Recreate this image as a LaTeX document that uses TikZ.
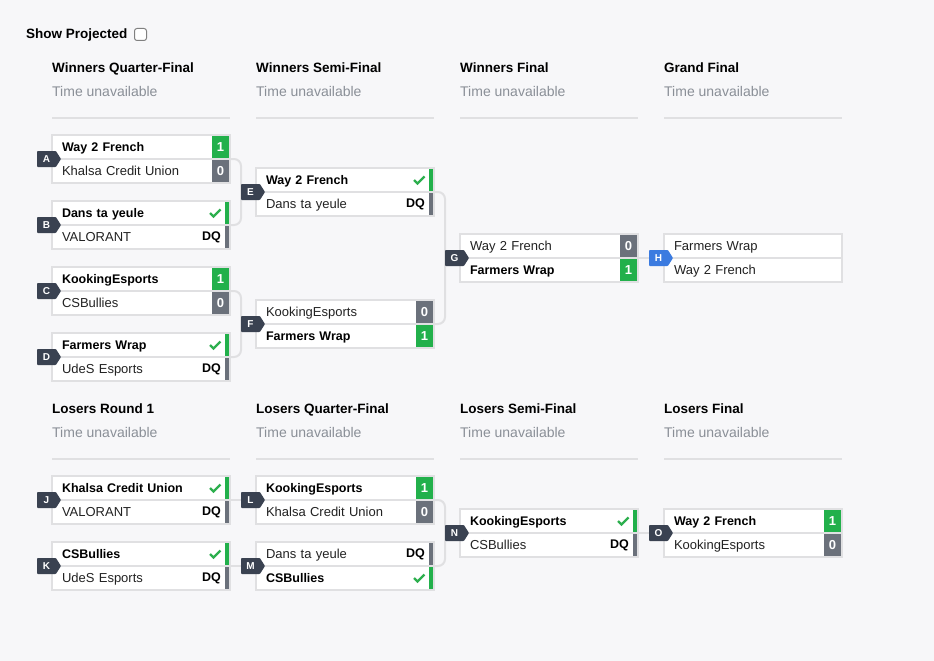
\documentclass[tikz,border=0pt]{standalone}
\usepackage{xcolor}
\usepackage{fontspec}
\setmainfont{Liberation Sans}
\usetikzlibrary{shapes.symbols,backgrounds}

\definecolor{pagebg}{HTML}{F7F7F9}
\definecolor{boxline}{HTML}{E0E0E2}
\definecolor{wingreen}{HTML}{22B04B}
\definecolor{losegray}{HTML}{6B717B}
\definecolor{tickgreen}{HTML}{2DAF4E}
\definecolor{badgedark}{HTML}{3A4251}
\definecolor{badgeblue}{HTML}{3B7BE0}
\definecolor{timegray}{HTML}{8A8F97}
\definecolor{teamtext}{HTML}{222222}

% one match = two rows, the result drawn at the right end of each row
\newcommand{\match}[9]{%
	\node[slot,#4,anchor=north west] (#1t) at (#2,#3) {#5};
	\node[slot,#7,anchor=north west] (#1b) at (#1t.south west) {#8};
	#6{#1t}#9{#1b}}
\newcommand{\scorewin}[1]{\node[score,fill=wingreen] (#1r) at ([xshift=-1pt]#1.east) {1};}
\newcommand{\scorelose}[1]{\node[score,fill=losegray] (#1r) at ([xshift=-1pt]#1.east) {0};}
\newcommand{\checkwin}[1]{%
	\node[stripe,fill=wingreen] (#1r) at ([xshift=-1pt]#1.east) {};
	\draw[checkline] ([xshift=-20pt]#1.east) -- ++(3.5,3.5) -- ++(7,-7);}
\newcommand{\dqlose}[1]{%
	\node[stripe,fill=losegray] (#1r) at ([xshift=-1pt]#1.east) {};
	\node[dq] (#1q) at ([xshift=-9pt]#1.east) {DQ};}
\newcommand{\nores}[1]{}

\begin{document}
\begin{tikzpicture}[x=1pt,y=-1pt,
	slot/.style={draw=boxline, line width=2pt, fill=white, minimum width=178pt, minimum height=24pt,
		text width=158pt, inner xsep=10pt, inner ysep=0pt, outer sep=0pt, text height=11pt, text depth=2pt,
		align=left, font=\fontsize{13}{15}\selectfont},
	win/.style={font=\fontsize{12.5}{15}\selectfont\bfseries, text=black},
	lose/.style={text=teamtext},
	score/.style={anchor=east, minimum width=17pt, minimum height=22pt, inner sep=0pt, outer sep=0pt,
		text=white, font=\fontsize{13}{15}\selectfont\bfseries},
	stripe/.style={anchor=east, minimum width=4pt, minimum height=22pt, inner sep=0pt, outer sep=0pt},
	dq/.style={anchor=east, inner sep=0pt, font=\fontsize{12.5}{15}\selectfont\bfseries},
	checkline/.style={draw=tickgreen, line width=2.2pt},
	badge/.style={signal, signal to=east, signal pointer angle=115, fill=badgedark, text=white,
		minimum width=24pt, minimum height=16pt, inner sep=0pt, outer sep=0pt, anchor=east,
		rounded corners=0.8pt, font=\fontsize{10}{10}\selectfont\bfseries},
	header/.style={anchor=base west, inner sep=0pt, font=\fontsize{13.5}{16}\selectfont\bfseries},
	timetxt/.style={anchor=base west, inner sep=0pt, text=timegray, font=\fontsize{14}{16}\selectfont},
	rule/.style={draw=boxline, line width=1.5pt},
	conn/.style={draw=boxline, line width=2pt, rounded corners=7pt}]
	
	% Parameters
	\def\colw{204}
	\def\cola{52}
	\def\colb{256}
	\def\colc{460}
	\def\cold{664}
	
	\useasboundingbox (0,0) rectangle (934,661);
	
	%top bar
	\node[header] (proj) at (26,39) {Show Projected};
	\node[draw=gray, fill=white, line width=1pt, rounded corners=2.5pt, minimum size=12pt, inner sep=0pt] (projbox) at (140.5,34.5) {};
	
	%round titles
	\foreach \t [count=\i from 0] in {Winners Quarter-Final, Winners Semi-Final, Winners Final, Grand Final} {
		\node[header] (wh\i) at (\cola+\i*\colw, 72.5) {\t};
		\node[timetxt] (wt\i) at (\cola+\i*\colw, 96.5) {Time unavailable};
		\draw[rule] (\cola+\i*\colw, 118) -- ++(178,0);
	}
	\foreach \t [count=\i from 0] in {Losers Round 1, Losers Quarter-Final, Losers Semi-Final, Losers Final} {
		\node[header] (lh\i) at (\cola+\i*\colw, 413.5) {\t};
		\node[timetxt] (lt\i) at (\cola+\i*\colw, 437.5) {Time unavailable};
		\draw[rule] (\cola+\i*\colw, 459) -- ++(178,0);
	}
	
	%winners bracket
	\match{A}{\cola}{135}{win}{Way 2 French}{\scorewin}{lose}{Khalsa Credit Union}{\scorelose}
	\match{B}{\cola}{201}{win}{Dans ta yeule}{\checkwin}{lose}{VALORANT}{\dqlose}
	\match{C}{\cola}{267}{win}{KookingEsports}{\scorewin}{lose}{CSBullies}{\scorelose}
	\match{D}{\cola}{333}{win}{Farmers Wrap}{\checkwin}{lose}{UdeS Esports}{\dqlose}
	\match{E}{\colb}{168}{win}{Way 2 French}{\checkwin}{lose}{Dans ta yeule}{\dqlose}
	\match{F}{\colb}{300}{lose}{KookingEsports}{\scorelose}{win}{Farmers Wrap}{\scorewin}
	\match{G}{\colc}{234}{lose}{Way 2 French}{\scorelose}{win}{Farmers Wrap}{\scorewin}
	\match{H}{\cold}{234}{lose}{Farmers Wrap}{\nores}{lose}{Way 2 French}{\nores}
	
	%losers bracket
	\match{J}{\cola}{476}{win}{Khalsa Credit Union}{\checkwin}{lose}{VALORANT}{\dqlose}
	\match{K}{\cola}{542}{win}{CSBullies}{\checkwin}{lose}{UdeS Esports}{\dqlose}
	\match{L}{\colb}{476}{win}{KookingEsports}{\scorewin}{lose}{Khalsa Credit Union}{\scorelose}
	\match{M}{\colb}{542}{lose}{Dans ta yeule}{\dqlose}{win}{CSBullies}{\checkwin}
	\match{N}{\colc}{509}{win}{KookingEsports}{\checkwin}{lose}{CSBullies}{\dqlose}
	\match{O}{\cold}{509}{win}{Way 2 French}{\scorewin}{lose}{KookingEsports}{\scorelose}
	
	%badges
	\foreach \m in {A,B,C,D,E,F,G,J,K,L,M,N,O}
		\node[badge] (b\m) at ([xshift=9pt]\m t.south west) {\m};
	\node[badge, fill=badgeblue] (bH) at ([xshift=9pt]Ht.south west) {H};
	
	%links
	\begin{pgfonlayer}{background}
		\fill[pagebg] (0,0) rectangle (934,661);
		\draw[conn] (At.south east) -| (bE.west) |- (Bt.south east);
		\draw[conn] (Ct.south east) -| (bF.west) |- (Dt.south east);
		\draw[conn] (Et.south east) -| (bG.west) |- (Ft.south east);
		\draw[conn] (Gt.south east) -- (bH.west);
		\draw[conn] (Jt.south east) -- (bL.west);
		\draw[conn] (Kt.south east) -- (bM.west);
		\draw[conn] (Lt.south east) -| (bN.west) |- (Mt.south east);
		\draw[conn] (Nt.south east) -- (bO.west);
	\end{pgfonlayer}
	
\end{tikzpicture}
\end{document}
